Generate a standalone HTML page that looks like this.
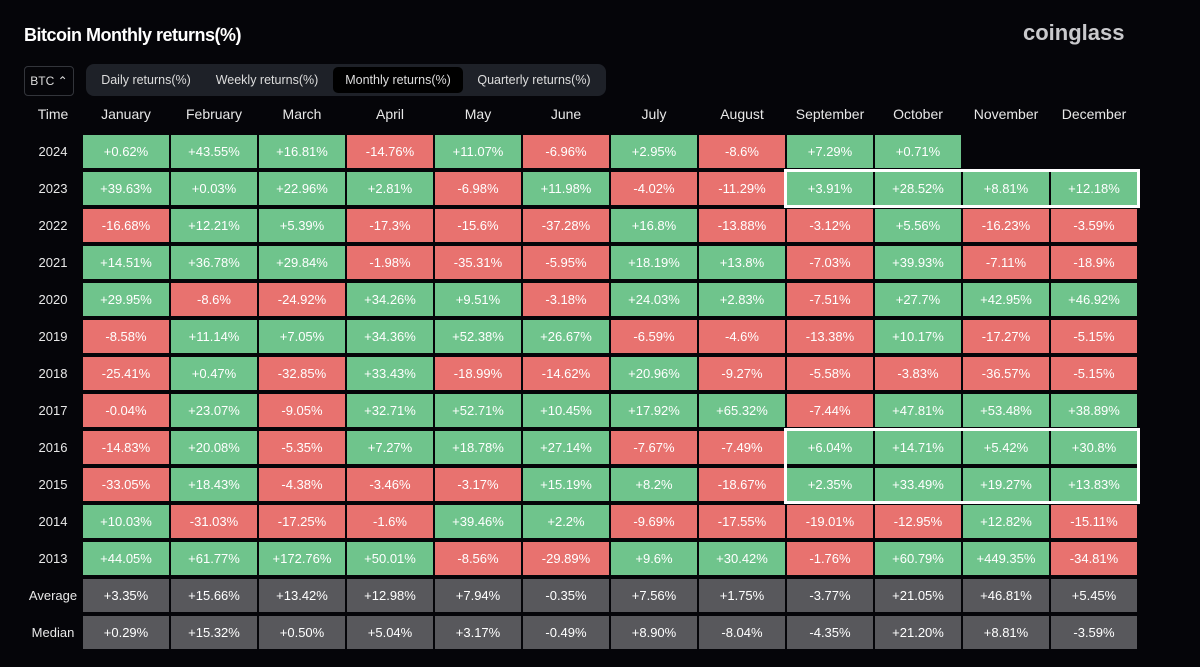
<!DOCTYPE html>
<html><head><meta charset="utf-8">
<style>
body{margin:0;width:1200px;height:667px;background:#050509;font-family:"Liberation Sans",sans-serif;color:#fff;position:relative;overflow:hidden}
.abs{position:absolute}
#title{left:24px;top:25px;font-size:18px;font-weight:bold;letter-spacing:-0.5px}
#logo{left:1023px;top:20px;font-size:22px;font-weight:bold;color:#c9c9cc;letter-spacing:0px}
#btc{left:24px;top:66px;width:48px;height:28px;border:1px solid #33353b;border-radius:4px;font-size:12px;line-height:28px;text-align:center;color:#ddd}
#tabs{left:86px;top:64px;width:520px;height:32px;background:#1e2128;border-radius:8px}
.tab{position:absolute;top:3px;height:26px;line-height:26px;font-size:12.5px;color:#ddd;text-align:center}
.tab.on{background:#000;border-radius:5px}
.hdr{position:absolute;top:106px;height:20px;font-size:14px;color:#e8e8e8;text-align:center}
.cell{position:absolute;height:33px;line-height:33px;font-size:13px;text-align:center;color:#fff}
.rl{position:absolute;height:33px;line-height:33px;font-size:13px;text-align:center;color:#e8e8e8;left:20px;width:66px}
.box{position:absolute;border:3px solid #fff;box-sizing:border-box}
</style></head><body>
<div id="title" class="abs">Bitcoin Monthly returns(%)</div>
<div id="logo" class="abs">coinglass</div>
<div id="btc" class="abs">BTC ⌃</div>
<div id="tabs" class="abs">
<div class="tab" style="left:4px;width:112px">Daily returns(%)</div>
<div class="tab" style="left:116px;width:130px">Weekly returns(%)</div>
<div class="tab on" style="left:247px;width:130px">Monthly returns(%)</div>
<div class="tab" style="left:380px;width:136px">Quarterly returns(%)</div>
</div>
<div id="grid"></div>
<script>
const months=["January","February","March","April","May","June","July","August","September","October","November","December"];
const rowLabels=["2024","2023","2022","2021","2020","2019","2018","2017","2016","2015","2014","2013","Average","Median"];
const r2024=["+0.62%","+43.55%","+16.81%","-14.76%","+11.07%","-6.96%","+2.95%","-8.6%","+7.29%","+0.71%",null,null];
const r2023=["+39.63%","+0.03%","+22.96%","+2.81%","-6.98%","+11.98%","-4.02%","-11.29%","+3.91%","+28.52%","+8.81%","+12.18%"];
const r2022=["-16.68%","+12.21%","+5.39%","-17.3%","-15.6%","-37.28%","+16.8%","-13.88%","-3.12%","+5.56%","-16.23%","-3.59%"];
const r2021=["+14.51%","+36.78%","+29.84%","-1.98%","-35.31%","-5.95%","+18.19%","+13.8%","-7.03%","+39.93%","-7.11%","-18.9%"];
const r2020=["+29.95%","-8.6%","-24.92%","+34.26%","+9.51%","-3.18%","+24.03%","+2.83%","-7.51%","+27.7%","+42.95%","+46.92%"];
const r2019=["-8.58%","+11.14%","+7.05%","+34.36%","+52.38%","+26.67%","-6.59%","-4.6%","-13.38%","+10.17%","-17.27%","-5.15%"];
const r2018=["-25.41%","+0.47%","-32.85%","+33.43%","-18.99%","-14.62%","+20.96%","-9.27%","-5.58%","-3.83%","-36.57%","-5.15%"];
const r2017=["-0.04%","+23.07%","-9.05%","+32.71%","+52.71%","+10.45%","+17.92%","+65.32%","-7.44%","+47.81%","+53.48%","+38.89%"];
const r2016=["-14.83%","+20.08%","-5.35%","+7.27%","+18.78%","+27.14%","-7.67%","-7.49%","+6.04%","+14.71%","+5.42%","+30.8%"];
const r2015=["-33.05%","+18.43%","-4.38%","-3.46%","-3.17%","+15.19%","+8.2%","-18.67%","+2.35%","+33.49%","+19.27%","+13.83%"];
const r2014=["+10.03%","-31.03%","-17.25%","-1.6%","+39.46%","+2.2%","-9.69%","-17.55%","-19.01%","-12.95%","+12.82%","-15.11%"];
const r2013=["+44.05%","+61.77%","+172.76%","+50.01%","-8.56%","-29.89%","+9.6%","+30.42%","-1.76%","+60.79%","+449.35%","-34.81%"];
const average=["+3.35%","+15.66%","+13.42%","+12.98%","+7.94%","-0.35%","+7.56%","+1.75%","-3.77%","+21.05%","+46.81%","+5.45%"];
const median=["+0.29%","+15.32%","+0.50%","+5.04%","+3.17%","-0.49%","+8.90%","-8.04%","-4.35%","+21.20%","+8.81%","-3.59%"];
const rows=[r2024,r2023,r2022,r2021,r2020,r2019,r2018,r2017,r2016,r2015,r2014,r2013,average,median];
const X0=83,PX=88,CW=86,Y0=135,PY=37;
const colX=i=>X0+i*PX, rowY=j=>Y0+j*PY;
const g=document.getElementById('grid');
const hl=document.createElement('div');hl.className='hdr';hl.style.left='20px';hl.style.width='66px';hl.textContent='Time';


g.appendChild(hl);
months.forEach((m,i)=>{const h=document.createElement('div');h.className='hdr';h.style.left=colX(i)+'px';h.style.width=CW+'px';h.textContent=m;


g.appendChild(h);});
rows.forEach((r,j)=>{
 const l=document.createElement('div');l.className='rl';l.style.top=rowY(j)+'px';l.textContent=rowLabels[j];
 
 
 g.appendChild(l);
 r.forEach((v,i)=>{ if(v==null)return;
  const c=document.createElement('div');c.className='cell';
  c.style.left=colX(i)+'px';c.style.top=rowY(j)+'px';c.style.width=CW+'px';
  c.style.background=j>=12?'#58585c':(v[0]==='-'?'#e8726f':'#6fc48c');
  c.textContent=v;
  
  
  g.appendChild(c);});
});
function box(c0,c1,r0,r1){const b=document.createElement('div');b.className='box';
 b.style.left=(colX(c0)-3)+'px';b.style.top=(rowY(r0)-3)+'px';
 b.style.width=(colX(c1)+CW-colX(c0)+6)+'px';b.style.height=(rowY(r1)+33-rowY(r0)+6)+'px';
 
 
 g.appendChild(b);}
box(8,11,1,1);box(8,11,8,9);
</script>
</body></html>
